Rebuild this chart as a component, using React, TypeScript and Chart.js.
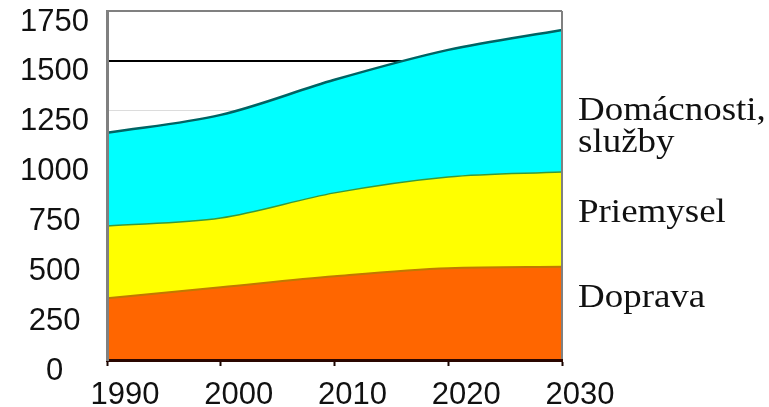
import React, { useEffect, useRef } from "react";
import { Chart, registerables } from "chart.js";

Chart.register(...registerables);

// Years on the horizontal axis
const years = ["1990", "2000", "2010", "2020", "2030"];

// Energy consumption by sector (stacked)
const doprava = [310, 365, 420, 460, 467];
const priemysel = [362, 347, 418, 458, 476];
const domacnosti = [467, 517, 567, 637, 712];

// Y axis range and step
const yMin = 0;
const yMax = 1750;
const yStep = 250;

// Sector captions on the right, bottom to top order of the stack
const sectorCaptions = [["Doprava"], ["Priemysel"], ["Domácnosti,", "služby"]];

const frameAndCaptions = {
  id: "frameAndCaptions",
  afterDatasetsDraw(chart: any) {
    const { ctx, chartArea } = chart;
    ctx.save();
    // right edge of the plot frame
    ctx.strokeStyle = "#808080";
    ctx.lineWidth = 2;
    ctx.beginPath();
    ctx.moveTo(chartArea.right, chartArea.top);
    ctx.lineTo(chartArea.right, chartArea.bottom);
    ctx.stroke();
    ctx.restore();
  },
  afterDraw(chart: any) {
    const { ctx, chartArea } = chart;
    ctx.save();
    ctx.fillStyle = "#111";
    ctx.font = '33px "Liberation Serif", "Times New Roman", serif';
    ctx.textAlign = "left";
    ctx.textBaseline = "alphabetic";
    const x = chartArea.right + 16;
    // baselines measured from the top of the plot area
    const baselines = [[296], [211], [109, 141]];
    sectorCaptions.forEach((lines, i) => {
      lines.forEach((line, j) => {
        ctx.save();
        ctx.translate(x, chartArea.top + baselines[i][j]);
        ctx.scale(1.12, 1);
        ctx.fillText(line, 0, 0);
        ctx.restore();
      });
    });
    ctx.restore();
  },
};

const tickFont = { family: '"Liberation Sans", Arial, sans-serif', size: 31 };

export default function App() {
  const canvasRef = useRef<HTMLCanvasElement | null>(null);

  useEffect(() => {
    if (!canvasRef.current) return;
    const chart = new Chart(canvasRef.current, {
      type: "line",
      data: {
        labels: years,
        datasets: [
          {
            label: "Doprava",
            data: doprava,
            backgroundColor: "#ff6600",
            borderColor: "#c07a00",
            borderWidth: 2,
            fill: "origin",
            pointRadius: 0,
            cubicInterpolationMode: "monotone",
          },
          {
            label: "Priemysel",
            data: priemysel,
            backgroundColor: "#ffff00",
            borderColor: "#3a9a3a",
            borderWidth: 1.5,
            fill: "-1",
            pointRadius: 0,
            cubicInterpolationMode: "monotone",
          },
          {
            label: "Domácnosti, služby",
            data: domacnosti,
            backgroundColor: "#00ffff",
            borderColor: "#006464",
            borderWidth: 2.5,
            fill: "-1",
            pointRadius: 0,
            cubicInterpolationMode: "monotone",
          },
        ],
      },
      options: {
        responsive: false,
        animation: false,
        layout: {
          autoPadding: false,
          padding: { top: 11, right: 207, bottom: 0, left: 0 },
        },
        plugins: {
          legend: { display: false },
          tooltip: { enabled: false },
          title: { display: false },
        },
        scales: {
          x: {
            grid: {
              drawOnChartArea: false,
              drawTicks: true,
              tickLength: 6,
              tickColor: "#1a0500",
              tickWidth: 2,
            },
            border: { color: "#2a0600", width: 3, z: 1 },
            ticks: {
              color: "#111",
              font: tickFont,
              padding: 11,
              labelOffset: 18,
              maxRotation: 0,
              autoSkip: false,
            },
            afterFit(scale: any) {
              scale.height = 47;
              scale.paddingLeft = 0;
              scale.paddingRight = 0;
            },
          },
          y: {
            stacked: true,
            min: yMin,
            max: yMax,
            ticks: {
              stepSize: yStep,
              color: "#111",
              font: tickFont,
              crossAlign: "center",
              padding: 18,
              labelOffset: 11,
              callback: (v: any) => String(v),
            },
            grid: {
              drawTicks: false,
              color: (c: any) => {
                const v = c.tick ? c.tick.value : null;
                if (v === 1500) return "#000000";
                if (v === 1750) return "#808080";
                if (v === 0) return "rgba(0,0,0,0)";
                return "#dcdcdc";
              },
              lineWidth: (c: any) => {
                const v = c.tick ? c.tick.value : null;
                return v === 1500 || v === 1750 ? 2 : 1;
              },
            },
            border: { color: "#808080", width: 3, z: 1 },
            afterFit(scale: any) {
              scale.width = 107;
              scale.paddingTop = 0;
              scale.paddingBottom = 0;
            },
          },
        },
      },
      plugins: [frameAndCaptions],
    });
    return () => chart.destroy();
  }, []);

  return (
    <div style={{ position: "fixed", left: 0, top: 0, width: 769, height: 407, background: "#fff" }}>
      <canvas ref={canvasRef} width={769} height={407} />
    </div>
  );
}
